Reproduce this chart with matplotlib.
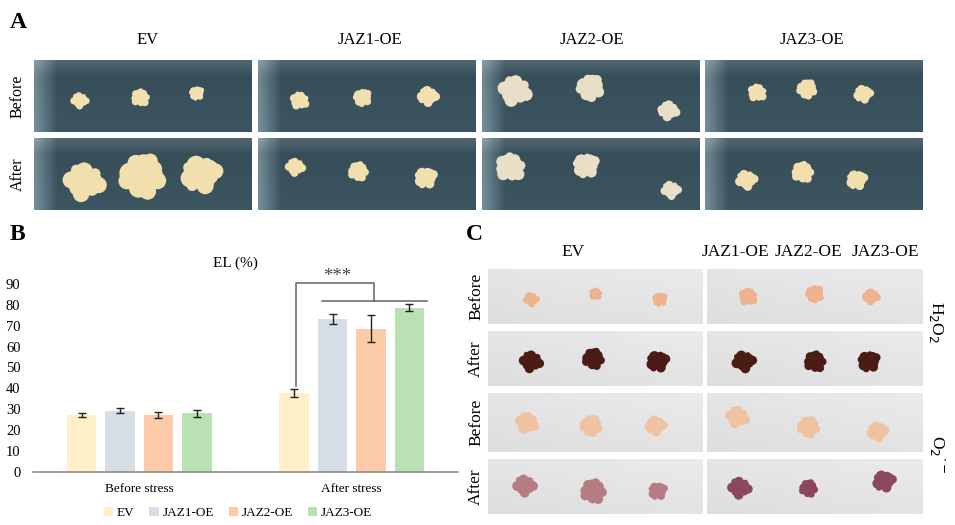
import numpy as np
import matplotlib
matplotlib.use("Agg")
import matplotlib.pyplot as plt
from matplotlib.patches import Circle, Patch

# ---------------- data ----------------
lines = ["EV", "JAZ1-OE", "JAZ2-OE", "JAZ3-OE"]
conditions = ["Before stress", "After stress"]
el_before = [27.2, 29.3, 27.2, 28.0]
el_after = [37.7, 73.0, 68.6, 78.6]
err_before = [1.0, 1.2, 1.6, 1.6]
err_after = [1.8, 2.4, 6.4, 1.7]
yticks = [0, 10, 20, 30, 40, 50, 60, 70, 80, 90]
bar_colors = ["#FFF0C8", "#D6DDE6", "#FDCAA8", "#B9E1B3"]
row_labels_A = ["Before", "After"]
row_labels_C = ["Before", "After", "Before", "After"]
titles_C = ["EV", "JAZ1-OE", "JAZ2-OE", "JAZ3-OE"]

W, H = 955, 525
fig = plt.figure(figsize=(W / 100, H / 100), dpi=100)
plt.rcParams["font.family"] = ["Liberation Serif", "DejaVu Serif"]
SERIF = ["Liberation Serif", "DejaVu Serif"]


def ax_px(x0, y0, x1, y1):
    return fig.add_axes([x0 / W, 1 - y1 / H, (x1 - x0) / W, (y1 - y0) / H])


def ftext(x, y, s, **kw):
    fig.text(x / W, 1 - y / H, s, **kw)


GOLD = np.pi * (3 - np.sqrt(5))


def blob(ax, cx, cy, r, color, phase=0.0):
    # lumpy cluster of overlapping round pieces (callus look)
    n = 14
    for k in range(n):
        a = k * GOLD + phase
        d = r * 0.75 * np.sqrt((k + 0.5) / n)
        pr = r * (0.42 - 0.12 * (k / n)) * (1 + 0.25 * np.sin(3 * k + phase))
        ax.add_patch(Circle((cx + d * np.cos(a), cy + 0.9 * d * np.sin(a)), pr,
                            fc=color, ec="none"))


def photo(x0, y0, x1, y1, spots, grad):
    ax = ax_px(x0, y0, x1, y1)
    w, h = x1 - x0, y1 - y0
    ax.set_xlim(0, w)
    ax.set_ylim(h, 0)
    ax.axis("off")
    ax.imshow(grad, extent=(0, w, h, 0), aspect="auto", interpolation="bilinear")
    for (fx, fy, r, c, ph) in spots:
        blob(ax, fx * w, fy * h, r, c, ph)
    return ax


# ---------------- Panel A ----------------
ftext(10, 22, "A", fontsize=17, fontweight="bold", va="center", ha="left", family=SERIF)
colsA = [(34, 251), (258, 476), (482, 699), (705, 922)]
rowsA = [(60, 132), (138, 210)]
titleA_x = [148, 370, 592, 812]
for i, t in enumerate(lines):
    ftext(titleA_x[i], 40, t, fontsize=12, ha="center", va="center", family=SERIF)
for j, lab in enumerate(row_labels_A):
    yc = (rowsA[j][0] + rowsA[j][1]) / 2
    ftext(18, yc, lab, fontsize=11.5, rotation=90, ha="center", va="center", family=SERIF)

cream = "#F2DFAE"
pale = "#E9DFC6"
spotsA = {
    (0, 0): [(0.21, 0.56, 9, cream, 0.3), (0.49, 0.52, 10, cream, 1.1), (0.75, 0.46, 8, cream, 2.0)],
    (0, 1): [(0.23, 0.60, 21, cream, 0.5), (0.50, 0.52, 25, cream, 1.5), (0.77, 0.50, 21, cream, 2.4)],
    (1, 0): [(0.19, 0.56, 10, cream, 0.8), (0.48, 0.52, 10, cream, 1.9), (0.78, 0.50, 11, cream, 2.7)],
    (1, 1): [(0.17, 0.40, 10, cream, 0.4), (0.46, 0.46, 11, cream, 1.3), (0.77, 0.55, 12, cream, 2.2)],
    (2, 0): [(0.15, 0.42, 17, pale, 0.6), (0.50, 0.38, 15, pale, 1.7), (0.86, 0.70, 11, pale, 2.9)],
    (2, 1): [(0.13, 0.40, 16, pale, 1.0), (0.48, 0.38, 14, pale, 2.1), (0.87, 0.72, 10, pale, 0.2)],
    (3, 0): [(0.24, 0.45, 10, cream, 0.9), (0.47, 0.40, 11, cream, 1.6), (0.73, 0.47, 10, cream, 2.5)],
    (3, 1): [(0.19, 0.58, 11, cream, 0.1), (0.45, 0.47, 12, cream, 1.2), (0.70, 0.58, 11, cream, 2.3)],
}
gy, gx = np.mgrid[0:20, 0:60]
base = np.array([0.21, 0.30, 0.34])
for ci, (x0, x1) in enumerate(colsA):
    for ri, (y0, y1) in enumerate(rowsA):
        fade = np.clip(1 - gx / 6.0, 0, 1)[..., None] * 0.22
        top = np.clip(1 - gy / 4.0, 0, 1)[..., None] * 0.10
        grad = base[None, None, :] * (1 + 0.12 * (gy[..., None] / 20)) + fade + top
        grad = np.clip(grad, 0, 1)
        photo(x0, y0, x1, y1, spotsA[(ci, ri)], grad)

# ---------------- Panel B ----------------
ftext(10, 235, "B", fontsize=17, fontweight="bold", va="center", ha="left", family=SERIF)
ftext(235, 263, "EL (%)", fontsize=11, ha="center", va="center", family=SERIF)
axB = ax_px(33, 284, 458, 471.7)
x = np.arange(len(conditions))
slot = 0.181
bw = 0.14
for i, name in enumerate(lines):
    vals = [el_before[i], el_after[i]]
    errs = [err_before[i], err_after[i]]
    pos = x + (i - 1.5) * slot
    axB.bar(pos, vals, width=bw, color=bar_colors[i], label=name, zorder=2)
    axB.errorbar(pos, vals, yerr=errs, fmt="none", ecolor="#222222", elinewidth=1.0,
                 capsize=3, capthick=1.0, zorder=3)
axB.set_xlim(-0.5, 1.5)
axB.set_ylim(0, 90)
axB.set_yticks(yticks)
axB.set_yticklabels([str(v) for v in yticks], fontsize=10.5, family=SERIF)
axB.set_xticks(x)
axB.set_xticklabels(conditions, fontsize=9.5, family=SERIF)
axB.tick_params(axis="both", length=0)
axB.tick_params(axis="y", pad=9)
axB.tick_params(axis="x", pad=8)
for s in ["top", "right", "left"]:
    axB.spines[s].set_visible(False)
axB.spines["bottom"].set_color("#8C8C8C")
axB.spines["bottom"].set_linewidth(1.2)
axB.patch.set_alpha(0)

# significance bracket
p_ev = 1 + (0 - 1.5) * slot + 0.01
yb_top = 90.3
yb_low = 82.0
xm = 1.106
bc = "#6E6E6E"
axB.plot([p_ev, p_ev, xm, xm], [41.2, yb_top, yb_top, yb_low], color=bc, lw=1.2, clip_on=False)
axB.plot([0.86, 1.353], [yb_low, yb_low], color=bc, lw=1.2, clip_on=False)
axB.text((p_ev + xm) / 2 + 0.01, yb_top - 0.8, "***", ha="center", va="bottom",
         fontsize=13.5, color="#444444", family=SERIF)

handles = [Patch(fc=c, ec="none") for c in bar_colors]
fig.legend(handles, lines, loc="center", bbox_to_anchor=(238 / W, 1 - 513 / H), ncol=4,
           frameon=False, handlelength=0.7, handleheight=0.7,
           handletextpad=0.3, columnspacing=1.1, prop={"family": SERIF, "size": 9.5})

# ---------------- Panel C ----------------
ftext(466, 235, "C", fontsize=17, fontweight="bold", va="center", ha="left", family=SERIF)
titleC_x = [573, 735, 808, 885]
for i, t in enumerate(titles_C):
    ftext(titleC_x[i], 252, t, fontsize=12.5, ha="center", va="center", family=SERIF)
colsC = [(488, 703), (707, 923)]
rowsC = [(269, 324), (331, 386), (393, 452), (459, 514)]
for j, lab in enumerate(row_labels_C):
    yc = (rowsC[j][0] + rowsC[j][1]) / 2
    ftext(476, yc, lab, fontsize=12.5, rotation=90, ha="center", va="center", family=SERIF)
ftext(936, 322, r"H$_2$O$_2$", fontsize=12.5, rotation=-90, ha="center", va="center", family=SERIF)
ftext(937, 454, r"O$_2$$^{\cdot-}$", fontsize=12.5, rotation=-90, ha="center", va="center", family=SERIF)

peach = "#EDB38E"
brown = "#4B1C14"
lpeach = "#EFC2A2"
pinkL = "#B57C82"
purple = "#8C4660"
spotsC = {
    (0, 0): [(0.20, 0.55, 8, peach, 0.2), (0.50, 0.45, 7, peach, 1.0), (0.80, 0.55, 8, peach, 2.0)],
    (0, 1): [(0.20, 0.55, 12, brown, 0.5), (0.49, 0.50, 12, brown, 1.4), (0.79, 0.55, 12, brown, 2.3)],
    (0, 2): [(0.18, 0.50, 12, lpeach, 0.7), (0.48, 0.55, 12, lpeach, 1.6), (0.78, 0.55, 11, lpeach, 2.6)],
    (0, 3): [(0.17, 0.48, 12, pinkL, 0.3), (0.49, 0.58, 14, pinkL, 1.3), (0.79, 0.58, 10, pinkL, 2.2)],
    (1, 0): [(0.19, 0.50, 10, peach, 0.9), (0.50, 0.45, 10, peach, 1.8), (0.76, 0.50, 9, peach, 2.8)],
    (1, 1): [(0.17, 0.55, 12, brown, 0.1), (0.50, 0.55, 12, brown, 1.2), (0.75, 0.55, 12, brown, 2.1)],
    (1, 2): [(0.14, 0.40, 12, lpeach, 0.6), (0.47, 0.57, 12, lpeach, 1.5), (0.79, 0.65, 11, lpeach, 2.5)],
    (1, 3): [(0.15, 0.52, 12, purple, 0.4), (0.47, 0.53, 10, purple, 1.4), (0.82, 0.40, 12, purple, 2.4)],
}
for ci, (x0, x1) in enumerate(colsC):
    for ri, (y0, y1) in enumerate(rowsC):
        g = 0.90 - 0.03 * (gy / 20.0) + 0.02 * (gx / 60.0)
        grad = np.clip(np.stack([g, g, g + 0.005], axis=-1), 0, 1)
        photo(x0, y0, x1, y1, spotsC[(ci, ri)], grad)

fig.savefig("out.png", dpi=100)
